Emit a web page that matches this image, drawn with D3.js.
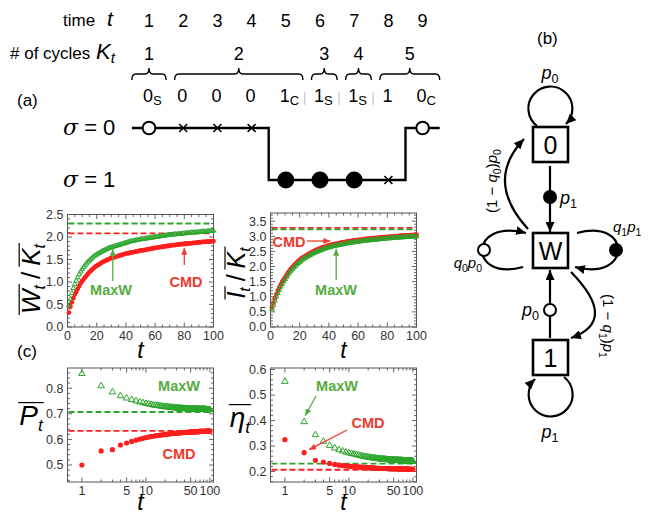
<!DOCTYPE html>
<html>
<head>
<meta charset="utf-8">
<title>Cycles, work and efficiency</title>
<script src="https://d3js.org/d3.v7.min.js"></script>
<style>
    body { margin: 0; background: #fff; }
    svg { display: block; }
    text { font-family: 'Liberation Sans', Arial, sans-serif; }
</style>
</head>
<body>
<svg id="fig" width="662" height="512"></svg>
<script>
// ---- timeline (panel a, top) ----
const timeSteps = [1, 2, 3, 4, 5, 6, 7, 8, 9];
const sigmaSeq  = [0, 0, 0, 0, 1, 1, 1, 1, 0];
const markKind  = ['open', 'x', 'x', 'x', 'fill', 'fill', 'fill', 'x', 'open'];
const obsDigit  = ['0', '0', '0', '0', '1', '1', '1', '1', '0'];
const obsSub    = ['S', '', '', '', 'C', 'S', 'S', '', 'C'];
const cycleNums  = [1, 2, 3, 4, 5];
const cycleStart = [1, 2, 6, 7, 8];
const cycleEnd   = [1, 5, 6, 7, 9];

// ---- panel (a): averages over t = 1..100 ----
const steps = d3.range(1, 101);
const cmdWork = [0.32,0.45,0.55,0.64,0.72,0.78,0.85,0.91,0.97,1.02,
    1.06,1.10,1.14,1.18,1.22,1.25,1.28,1.31,1.34,1.36,
    1.38,1.40,1.42,1.44,1.46,1.47,1.49,1.50,1.52,1.53,
    1.54,1.55,1.56,1.57,1.58,1.59,1.60,1.61,1.62,1.63,
    1.64,1.64,1.65,1.66,1.66,1.67,1.68,1.68,1.69,1.70,
    1.70,1.71,1.71,1.72,1.73,1.73,1.74,1.74,1.75,1.76,
    1.76,1.77,1.77,1.78,1.78,1.79,1.79,1.80,1.80,1.81,
    1.81,1.82,1.82,1.82,1.83,1.83,1.84,1.84,1.84,1.85,
    1.85,1.85,1.86,1.86,1.86,1.87,1.87,1.87,1.88,1.88,
    1.88,1.89,1.89,1.89,1.89,1.90,1.90,1.90,1.91,1.91];
const maxwWork = [0.48,0.62,0.75,0.86,0.95,1.03,1.10,1.17,1.23,1.28,
    1.33,1.37,1.41,1.45,1.48,1.51,1.54,1.57,1.59,1.61,
    1.63,1.65,1.67,1.69,1.70,1.72,1.73,1.75,1.76,1.77,
    1.78,1.79,1.80,1.81,1.82,1.83,1.84,1.85,1.86,1.87,
    1.88,1.89,1.90,1.91,1.91,1.92,1.93,1.93,1.94,1.95,
    1.95,1.96,1.96,1.97,1.97,1.98,1.98,1.99,1.99,2.00,
    2.00,2.01,2.01,2.02,2.02,2.03,2.03,2.04,2.04,2.05,
    2.05,2.05,2.06,2.06,2.06,2.07,2.07,2.07,2.08,2.08,
    2.08,2.09,2.09,2.09,2.10,2.10,2.10,2.10,2.11,2.11,
    2.11,2.12,2.12,2.12,2.12,2.13,2.13,2.13,2.14,2.14];
const cmdInfo = [0.65,0.80,0.95,1.08,1.20,1.30,1.40,1.49,1.57,1.64,
    1.72,1.79,1.86,1.92,1.98,2.03,2.08,2.13,2.18,2.22,
    2.26,2.29,2.32,2.35,2.38,2.41,2.44,2.46,2.49,2.52,
    2.54,2.56,2.58,2.60,2.62,2.63,2.65,2.66,2.68,2.70,
    2.71,2.72,2.73,2.74,2.75,2.76,2.77,2.78,2.80,2.81,
    2.81,2.82,2.83,2.84,2.84,2.85,2.86,2.86,2.87,2.88,
    2.88,2.89,2.89,2.90,2.91,2.91,2.92,2.92,2.93,2.94,
    2.94,2.94,2.95,2.95,2.96,2.96,2.97,2.97,2.97,2.98,
    2.98,2.99,2.99,2.99,3.00,3.00,3.00,3.01,3.01,3.02,
    3.02,3.02,3.03,3.03,3.03,3.04,3.04,3.04,3.05,3.05];
const maxwInfo = [0.60,0.73,0.87,1.00,1.12,1.23,1.33,1.42,1.50,1.58,
    1.66,1.73,1.80,1.86,1.92,1.97,2.02,2.07,2.11,2.15,
    2.19,2.23,2.26,2.29,2.32,2.35,2.38,2.40,2.43,2.45,
    2.47,2.49,2.51,2.53,2.55,2.57,2.59,2.60,2.62,2.63,
    2.64,2.66,2.67,2.68,2.69,2.70,2.71,2.72,2.73,2.74,
    2.75,2.76,2.77,2.78,2.78,2.79,2.80,2.81,2.81,2.82,
    2.83,2.83,2.84,2.85,2.85,2.86,2.86,2.87,2.87,2.88,
    2.88,2.89,2.89,2.90,2.90,2.91,2.91,2.92,2.92,2.93,
    2.93,2.93,2.94,2.94,2.95,2.95,2.95,2.96,2.96,2.96,
    2.97,2.97,2.97,2.98,2.98,2.98,2.99,2.99,2.99,3.00];
const workLimits = { maxw: 2.30, cmd: 2.08 };
const infoLimits = { maxw: 3.23, cmd: 3.28 };

// ---- panel (c): power and efficiency ----
const cmdPower = [0.500,0.555,0.560,0.578,0.586,0.592,0.597,0.601,0.604,0.607,
    0.609,0.611,0.612,0.614,0.615,0.616,0.617,0.618,0.619,0.620,
    0.620,0.621,0.621,0.622,0.622,0.623,0.623,0.624,0.624,0.624,
    0.625,0.625,0.625,0.626,0.626,0.626,0.626,0.627,0.627,0.627,
    0.627,0.627,0.628,0.628,0.628,0.628,0.628,0.628,0.629,0.629,
    0.629,0.629,0.629,0.629,0.629,0.629,0.630,0.630,0.630,0.630,
    0.630,0.630,0.630,0.630,0.630,0.630,0.630,0.631,0.631,0.631,
    0.631,0.631,0.631,0.631,0.631,0.631,0.631,0.631,0.631,0.631,
    0.631,0.631,0.631,0.631,0.631,0.631,0.632,0.632,0.632,0.632,
    0.632,0.632,0.632,0.632,0.632,0.632,0.632,0.632,0.632,0.632];
const maxwPower = [0.857,0.809,0.785,0.770,0.761,0.755,0.750,0.746,0.743,0.740,
    0.738,0.736,0.734,0.733,0.732,0.731,0.730,0.729,0.728,0.727,
    0.727,0.726,0.726,0.725,0.725,0.724,0.724,0.723,0.723,0.723,
    0.722,0.722,0.722,0.721,0.721,0.721,0.721,0.720,0.720,0.720,
    0.720,0.720,0.719,0.719,0.719,0.719,0.719,0.719,0.718,0.718,
    0.718,0.718,0.718,0.718,0.718,0.718,0.718,0.718,0.718,0.718,
    0.718,0.718,0.718,0.717,0.717,0.717,0.717,0.717,0.717,0.717,
    0.717,0.717,0.717,0.717,0.717,0.717,0.717,0.717,0.717,0.717,
    0.717,0.717,0.717,0.717,0.717,0.716,0.716,0.716,0.716,0.716,
    0.716,0.716,0.716,0.716,0.716,0.716,0.716,0.716,0.716,0.716];
const cmdEff = [0.325,0.274,0.244,0.237,0.232,0.228,0.225,0.223,0.222,0.221,
    0.220,0.219,0.219,0.218,0.217,0.217,0.216,0.216,0.215,0.215,
    0.215,0.214,0.214,0.214,0.214,0.213,0.213,0.213,0.213,0.213,
    0.212,0.212,0.212,0.212,0.212,0.212,0.212,0.212,0.212,0.212,
    0.211,0.211,0.211,0.211,0.211,0.211,0.211,0.211,0.211,0.211,
    0.211,0.211,0.211,0.211,0.211,0.211,0.211,0.211,0.211,0.211,
    0.210,0.210,0.210,0.210,0.210,0.210,0.210,0.210,0.210,0.210,
    0.210,0.210,0.210,0.210,0.210,0.210,0.210,0.210,0.210,0.210,
    0.210,0.210,0.210,0.210,0.210,0.209,0.209,0.209,0.209,0.209,
    0.209,0.209,0.209,0.209,0.209,0.209,0.209,0.209,0.209,0.209];
const maxwEff = [0.553,0.395,0.344,0.318,0.302,0.292,0.285,0.280,0.276,0.273,
    0.270,0.268,0.266,0.264,0.262,0.261,0.259,0.258,0.257,0.256,
    0.255,0.254,0.254,0.253,0.252,0.252,0.251,0.251,0.250,0.250,
    0.249,0.249,0.249,0.248,0.248,0.248,0.247,0.247,0.247,0.246,
    0.246,0.246,0.246,0.246,0.245,0.245,0.245,0.245,0.245,0.245,
    0.244,0.244,0.244,0.244,0.244,0.244,0.244,0.244,0.244,0.244,
    0.243,0.243,0.243,0.243,0.243,0.243,0.243,0.243,0.243,0.243,
    0.242,0.242,0.242,0.242,0.242,0.242,0.242,0.242,0.242,0.242,
    0.241,0.241,0.241,0.241,0.241,0.241,0.241,0.241,0.241,0.241,
    0.240,0.240,0.240,0.240,0.240,0.240,0.240,0.240,0.240,0.240];
const powerLimits = { maxw: 0.707, cmd: 0.633 };
const effLimits   = { maxw: 0.231, cmd: 0.207 };

const logMajor = [1, 5, 10, 50, 100];
const logMinor = [2, 3, 4, 6, 7, 8, 9, 20, 30, 40, 60, 70, 80, 90];

const RED = '#ff1e1e', GREEN = '#2ca52c';
const RED_TXT = '#ee3b2e', GREEN_TXT = '#55ad40';

const svg = d3.select('#fig');
const defs = svg.append('defs');
function arrowHead(id, color, len, wid) {
    defs.append('marker').attr('id', id)
        .attr('viewBox', `0 0 ${len} ${wid}`)
        .attr('refX', len).attr('refY', wid / 2)
        .attr('markerWidth', len).attr('markerHeight', wid)
        .attr('markerUnits', 'userSpaceOnUse')
        .attr('orient', 'auto')
        .append('path').attr('d', `M0,0L${len},${wid / 2}L0,${wid}Z`).attr('fill', color);
}
arrowHead('ahBlack', '#000', 10, 9);
arrowHead('ahRed', RED_TXT, 7, 6);
arrowHead('ahGreen', GREEN_TXT, 7, 6);

// text built from pieces so overlines can sit over W_t, K_t etc.
function mathLabel(parent, parts, size) {
    const g = parent.append('g');
    const inner = g.append('g');
    let cx = 0;
    const spans = [];
    parts.forEach(p => {
        const fs = p.sub ? size * 0.62 : size;
        const t = inner.append('text')
            .attr('x', cx).attr('y', p.sub ? size * 0.2 : 0)
            .attr('font-size', fs)
            .attr('font-family', p.it ? "'Liberation Serif', serif" : "'DejaVu Sans', sans-serif")
            .attr('font-style', p.it ? 'italic' : 'normal')
            .attr('fill', '#000')
            .text(p.s);
        const w = t.node().getComputedTextLength();
        spans.push({ x0: cx, x1: cx + w, grp: p.ov });
        cx += w + (p.gap || 0);
    });
    d3.groups(spans.filter(s => s.grp), s => s.grp).forEach(([, arr]) => {
        inner.append('line')
            .attr('x1', arr[0].x0 - 1).attr('x2', arr[arr.length - 1].x1 + 1)
            .attr('y1', -size * 0.8).attr('y2', -size * 0.8)
            .attr('stroke', '#000').attr('stroke-width', 1.2);
    });
    inner.attr('transform', `translate(${-cx / 2},0)`);
    return g;
}

// ================= timeline =================
const tx = d3.scaleLinear().domain([1, 9]).range([149, 422.6]);
const sy = d3.scaleOrdinal().domain([0, 1]).range([128, 180]);
const step = tx(2) - tx(1);

svg.append('text').attr('x', 63).attr('y', 26).attr('font-size', 17).text('time');
svg.append('text').attr('x', 107).attr('y', 26).attr('font-size', 21)
    .attr('font-family', "'Liberation Serif', serif").attr('font-style', 'italic').text('t');
svg.append('text').attr('x', 10).attr('y', 59).attr('font-size', 17).text('# of cycles');
const kt = svg.append('text').attr('x', 96).attr('y', 59)
    .attr('font-family', "'Liberation Serif', serif").attr('font-style', 'italic');
kt.append('tspan').attr('font-size', 22).text('K');
kt.append('tspan').attr('font-size', 15).attr('dy', 4).text('t');

svg.append('g').selectAll('text').data(timeSteps).join('text')
    .attr('x', d => tx(d)).attr('y', 27)
    .attr('text-anchor', 'middle').attr('font-size', 18)
    .attr('font-family', "'DejaVu Sans', sans-serif")
    .text(d => d);

// braces over each cycle
const braceL = i => tx(cycleStart[i]) - (i === 0 ? 0.5 : 0.25) * step;
const braceR = i => tx(cycleEnd[i]) + 0.5 * step;
svg.append('g').selectAll('path').data(cycleNums).join('path')
    .attr('d', (d, i) => {
        const x0 = braceL(i), x1 = braceR(i), xm = (x0 + x1) / 2;
        const yb = 80, yh = 74, yt = 68, r = 4;
        return `M${x0},${yb}Q${x0},${yh} ${x0 + r},${yh}L${xm - r},${yh}Q${xm},${yh} ${xm},${yt}` +
               `Q${xm},${yh} ${xm + r},${yh}L${x1 - r},${yh}Q${x1},${yh} ${x1},${yb}`;
    })
    .attr('fill', 'none').attr('stroke', '#000').attr('stroke-width', 1.4);
svg.append('g').selectAll('text').data(cycleNums).join('text')
    .attr('x', (d, i) => (braceL(i) + braceR(i)) / 2).attr('y', 60)
    .attr('text-anchor', 'middle').attr('font-size', 18)
    .attr('font-family', "'DejaVu Sans', sans-serif")
    .text(d => d);

// observed symbols with S / C subscripts
const obs = svg.append('g').selectAll('text').data(timeSteps).join('text')
    .attr('x', d => tx(d) - 6).attr('y', 102)
    .attr('font-size', 18).attr('font-family', "'DejaVu Sans', sans-serif");
obs.append('tspan').text((d, i) => obsDigit[i]);
obs.append('tspan').attr('dy', 3).attr('font-size', 13).text((d, i) => obsSub[i]);
svg.append('g').selectAll('line').data([5, 6, 7]).join('line')
    .attr('x1', d => tx(d) + 19).attr('x2', d => tx(d) + 19)
    .attr('y1', 92).attr('y2', 105).attr('stroke', '#bbb').attr('stroke-width', 1);

svg.append('text').attr('x', 17).attr('y', 106).attr('font-size', 17).text('(a)');

['0', '1'].forEach((s, i) => {
    const t = svg.append('text').attr('x', 63).attr('y', sy(i) + 7)
        .attr('font-size', 22).attr('font-family', "'DejaVu Sans', sans-serif");
    t.append('tspan').attr('font-family', "'DejaVu Serif', serif").attr('font-style', 'italic').text('σ');
    t.append('tspan').text(' = ' + s);
});

const statePts = [[0.5, sigmaSeq[0]]].concat(timeSteps.map((t, i) => [t, sigmaSeq[i]]), [[9.5, sigmaSeq[8]]]);
svg.append('path')
    .attr('d', d3.line().x(d => tx(d[0])).y(d => sy(d[1])).curve(d3.curveStep)(statePts))
    .attr('fill', 'none').attr('stroke', '#000').attr('stroke-width', 2.4);

timeSteps.forEach((t, i) => {
    const cx = tx(t), cy = sy(sigmaSeq[i]);
    if (markKind[i] === 'x') {
        svg.append('path').attr('d', `M${cx - 4},${cy - 4}L${cx + 4},${cy + 4}M${cx - 4},${cy + 4}L${cx + 4},${cy - 4}`)
            .attr('stroke', '#000').attr('stroke-width', 1.6);
    } else {
        svg.append('circle').attr('cx', cx).attr('cy', cy)
            .attr('r', markKind[i] === 'open' ? 6.3 : 7.5)
            .attr('fill', markKind[i] === 'open' ? '#fff' : '#000')
            .attr('stroke', '#000').attr('stroke-width', 2);
    }
});

// ================= plot helpers =================
function framePlot(x, y, o) {
    const [x0, x1] = x.range();
    const [y0, y1] = y.range();
    const g = svg.append('g');
    g.append('rect').attr('x', x0).attr('y', y1).attr('width', x1 - x0).attr('height', y0 - y1)
        .attr('fill', 'none').attr('stroke', '#555').attr('stroke-width', 1);
    const tick = (vals, len, horiz) => {
        vals.forEach(v => {
            if (horiz) {
                const p = x(v);
                g.append('path').attr('d', `M${p},${y0}v${-len}M${p},${y1}v${len}`);
            } else {
                const p = y(v);
                g.append('path').attr('d', `M${x0},${p}h${len}M${x1},${p}h${-len}`);
            }
        });
    };
    tick(o.xMajor, 4.5, true); tick(o.xMinor, 2.5, true);
    tick(o.yMajor, 4.5, false); tick(o.yMinor, 2.5, false);
    g.selectAll('path').attr('stroke', '#555').attr('stroke-width', 0.9);
    g.append('g').selectAll('text').data(o.xMajor).join('text')
        .attr('x', d => x(d)).attr('y', y0 + 13)
        .attr('text-anchor', 'middle').attr('font-size', 12.5).attr('fill', '#333')
        .text(o.xFmt);
    g.append('g').selectAll('text').data(o.yMajor).join('text')
        .attr('x', x0 - 4).attr('y', d => y(d)).attr('dy', '0.35em')
        .attr('text-anchor', 'end').attr('font-size', 12.5).attr('fill', '#333')
        .text(o.yFmt);
    svg.append('text').attr('x', (x0 + x1) / 2).attr('y', o.tY)
        .attr('text-anchor', 'middle').attr('font-size', 23)
        .attr('font-family', "'Liberation Serif', serif").attr('font-style', 'italic').text('t');
}

function limitLines(x, y, lim) {
    const [x0, x1] = x.range();
    [['cmd', RED], ['maxw', GREEN]].forEach(([k, c]) => {
        svg.append('line').attr('x1', x0 + 1).attr('x2', x1 - 1)
            .attr('y1', y(lim[k])).attr('y2', y(lim[k]))
            .attr('stroke', c).attr('stroke-width', 1.8).attr('stroke-dasharray', '6,3');
    });
}

function series(x, y, cmd, maxw, r, triSize) {
    svg.append('g').selectAll('circle').data(steps).join('circle')
        .attr('cx', d => x(d)).attr('cy', (d, i) => y(cmd[i])).attr('r', r).attr('fill', RED);
    const tri = d3.symbol().type(d3.symbolTriangle).size(triSize);
    svg.append('g').selectAll('path').data(steps).join('path')
        .attr('transform', (d, i) => `translate(${x(d)},${y(maxw[i])})`)
        .attr('d', tri).attr('fill', 'none').attr('stroke', GREEN).attr('stroke-width', 1);
}

function note(x, y, txt, color) {
    svg.append('text').attr('x', x).attr('y', y).attr('text-anchor', 'middle')
        .attr('font-size', 14.5).attr('font-weight', 'bold').attr('fill', color).text(txt);
}
function arrow(x1, y1, x2, y2, color, id) {
    svg.append('line').attr('x1', x1).attr('y1', y1).attr('x2', x2).attr('y2', y2)
        .attr('stroke', color).attr('stroke-width', 1.3).attr('marker-end', `url(#${id})`);
}

const linOpts = {
    xMajor: [0, 20, 40, 60, 80, 100],
    xMinor: d3.range(5, 100, 5).filter(v => v % 20),
    xFmt: d => d, yFmt: d3.format('.1f'), tY: 358
};

// ---- (a) left: work per cycle ----
const xa1 = d3.scaleLinear().domain([0, 100]).range([67.5, 213.5]);
const ya1 = d3.scaleLinear().domain([0, 2.5]).range([327, 214.5]);
framePlot(xa1, ya1, Object.assign({}, linOpts, {
    yMajor: [0, 0.5, 1, 1.5, 2, 2.5],
    yMinor: d3.range(0.1, 2.5, 0.1).filter(v => Math.abs(v * 2 - Math.round(v * 2)) > 1e-6)
}));
limitLines(xa1, ya1, workLimits);
series(xa1, ya1, cmdWork, maxwWork, 2.4, 10);
note(111, 295, 'MaxW', GREEN_TXT);
arrow(xa1(31), 281, xa1(31), ya1(maxwWork[30]) + 2, GREEN_TXT, 'ahGreen');
note(186, 287, 'CMD', RED_TXT);
arrow(xa1(80), 265, xa1(80), ya1(cmdWork[79]) + 4, RED_TXT, 'ahRed');
const wl = mathLabel(svg, [
    { s: 'W', it: true, ov: 'a' }, { s: 't', it: true, sub: true, ov: 'a', gap: 6 },
    { s: '/', gap: 6 },
    { s: 'K', it: true, ov: 'b' }, { s: 't', it: true, sub: true, ov: 'b' }
], 26);
wl.attr('transform', 'translate(40,279) rotate(-90)');

// ---- (a) right: information per cycle ----
const xa2 = d3.scaleLinear().domain([0, 100]).range([270.5, 416.5]);
const ya2 = d3.scaleLinear().domain([0, 3.77]).range([327, 213]);
framePlot(xa2, ya2, Object.assign({}, linOpts, {
    yMajor: [0, 0.5, 1, 1.5, 2, 2.5, 3, 3.5],
    yMinor: d3.range(0.1, 3.75, 0.1).filter(v => Math.abs(v * 2 - Math.round(v * 2)) > 1e-6)
}));
limitLines(xa2, ya2, infoLimits);
series(xa2, ya2, cmdInfo, maxwInfo, 2.4, 10);
note(289, 247, 'CMD', RED_TXT);
arrow(307, 241, xa2(41), 241, RED_TXT, 'ahRed');
note(336, 295, 'MaxW', GREEN_TXT);
arrow(xa2(45), 280, xa2(45), ya2(maxwInfo[44]) + 3, GREEN_TXT, 'ahGreen');
const il = mathLabel(svg, [
    { s: 'I', it: true, ov: 'a' }, { s: 't', it: true, sub: true, ov: 'a', gap: 6 },
    { s: '/', gap: 6 },
    { s: 'K', it: true, ov: 'b' }, { s: 't', it: true, sub: true, ov: 'b' }
], 25);
il.attr('transform', 'translate(245,273) rotate(-90)');

// ================= panel (c) =================
svg.append('text').attr('x', 17).attr('y', 357).attr('font-size', 17).text('(c)');
const logOpts = { xMajor: logMajor, xMinor: logMinor, xFmt: d => d, yFmt: d3.format('.1f'), tY: 510 };

const xc1 = d3.scaleLog().domain([0.596, 113.8]).range([67.5, 213.5]);
const yc1 = d3.scaleLinear().domain([0.4335, 0.879]).range([482, 368]);
framePlot(xc1, yc1, Object.assign({}, logOpts, {
    yMajor: [0.5, 0.6, 0.7, 0.8],
    yMinor: [0.44, 0.46, 0.48, 0.52, 0.54, 0.56, 0.58, 0.62, 0.64, 0.66, 0.68, 0.72, 0.74, 0.76, 0.78, 0.82, 0.84, 0.86]
}));
limitLines(xc1, yc1, powerLimits);
series(xc1, yc1, cmdPower, maxwPower, 2.6, 18);
note(179, 391, 'MaxW', GREEN_TXT);
note(179, 459, 'CMD', RED_TXT);
const pl = mathLabel(svg, [
    { s: 'P', it: true, ov: 'a' }, { s: 't', it: true, sub: true, ov: 'a' }
], 28);
pl.attr('transform', 'translate(31,425)');

const xc2 = d3.scaleLog().domain([0.596, 113.8]).range([270.5, 416.5]);
const yc2 = d3.scaleLinear().domain([0.159, 0.606]).range([482, 368]);
framePlot(xc2, yc2, Object.assign({}, logOpts, {
    yMajor: [0.2, 0.3, 0.4, 0.5, 0.6],
    yMinor: [0.16, 0.18, 0.22, 0.24, 0.26, 0.28, 0.32, 0.34, 0.36, 0.38, 0.42, 0.44, 0.46, 0.48, 0.52, 0.54, 0.56, 0.58]
}));
limitLines(xc2, yc2, effLimits);
series(xc2, yc2, cmdEff, maxwEff, 2.6, 18);
note(337, 391, 'MaxW', GREEN_TXT);
arrow(316, 396, xc2(2) + 1, yc2(maxwEff[1]) - 6, GREEN_TXT, 'ahGreen');
note(368, 428, 'CMD', RED_TXT);
arrow(347, 430, xc2(2) + 5, yc2(cmdEff[1]) - 3, RED_TXT, 'ahRed');
const el = mathLabel(svg, [
    { s: 'η', it: true, ov: 'a' }, { s: 't', it: true, sub: true, ov: 'a' }
], 28);
el.attr('transform', 'translate(240,427)');

// ================= panel (b): state diagram =================
svg.append('text').attr('x', 537).attr('y', 44).attr('font-size', 17).text('(b)');
const boxes = [['0', 144.5], ['W', 250.5], ['1', 357.5]];
boxes.forEach(([lab, cy]) => {
    svg.append('rect').attr('x', 533).attr('y', cy - 17.5).attr('width', 35).attr('height', 35)
        .attr('fill', '#fff').attr('stroke', '#000').attr('stroke-width', 2.6);
    svg.append('text').attr('x', 550.5).attr('y', cy + 9).attr('text-anchor', 'middle')
        .attr('font-size', 25).attr('font-family', "'DejaVu Sans', sans-serif").text(lab);
});
function bpath(d) {
    return svg.append('path').attr('d', d).attr('fill', 'none').attr('stroke', '#000')
        .attr('stroke-width', 2.2).attr('marker-end', 'url(#ahBlack)');
}
bpath('M537,126A22,22 0 1 1 566,124');
bpath('M564,377A22,22 0 1 1 535,379');
bpath('M550,166L550,232');
bpath('M550,338L550,270');
bpath('M528,229Q484,181 524,139');
bpath('M571,272Q619,321 571,338');
bpath('M523,267C468,282 468,218 526,233');
bpath('M577,233C632,218 632,282 575,267');
svg.append('circle').attr('cx', 550).attr('cy', 197).attr('r', 7).attr('fill', '#000');
svg.append('circle').attr('cx', 550).attr('cy', 310).attr('r', 6).attr('fill', '#fff').attr('stroke', '#000').attr('stroke-width', 2);
svg.append('circle').attr('cx', 484).attr('cy', 250).attr('r', 6).attr('fill', '#fff').attr('stroke', '#000').attr('stroke-width', 2);
svg.append('circle').attr('cx', 616).attr('cy', 250).attr('r', 7).attr('fill', '#000');

// parts: [text, flags] with i = italic, s = subscript, u = back to baseline
function prob(x, y, parts, anchor, size, rot) {
    const t = svg.append('text').attr('x', x).attr('y', y).attr('text-anchor', anchor || 'start')
        .attr('font-size', size).attr('font-family', "'DejaVu Sans', sans-serif");
    if (rot) t.attr('transform', `rotate(${rot},${x},${y})`);
    parts.forEach(p => {
        const f = p[1] || '';
        const sp = t.append('tspan').text(p[0]);
        if (f.includes('i')) sp.attr('font-style', 'italic');
        if (f.includes('s')) sp.attr('font-size', size * 0.7).attr('dy', 4);
        if (f.includes('u')) sp.attr('dy', -4);
    });
}
prob(550, 79, [['p', 'i'], ['0', 's']], 'middle', 18);
prob(560, 204, [['p', 'i'], ['1', 's']], 'start', 18);
prob(539, 316, [['p', 'i'], ['0', 's']], 'end', 18);
prob(550, 438, [['p', 'i'], ['1', 's']], 'middle', 18);
prob(482, 268, [['q', 'i'], ['0', 's'], ['p', 'iu'], ['0', 's']], 'end', 15);
prob(613, 232, [['q', 'i'], ['1', 's'], ['p', 'iu'], ['1', 's']], 'start', 15);
prob(497, 181, [['(1 − '], ['q', 'i'], ['0', 's'], [')', 'u'], ['p', 'i'], ['0', 's']], 'middle', 15, -90);
prob(603, 326, [['(1 − '], ['q', 'i'], ['1', 's'], [')', 'u'], ['p', 'i'], ['1', 's']], 'middle', 15, 90);
</script>
</body>
</html>
